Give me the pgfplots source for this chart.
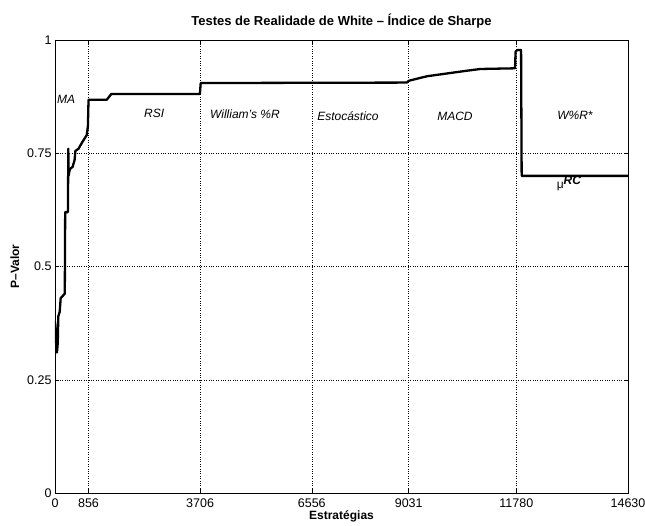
\documentclass[border=0pt]{standalone}
\usepackage{pgfplots}
\pgfplotsset{compat=1.18}
\usepackage{fontspec}
\setmainfont{Liberation Sans}
\begin{document}
\begin{tikzpicture}
\begin{axis}[
  name=main,
  scale only axis,
  width=573pt, height=453pt,
  xmin=0, xmax=14630, ymin=0, ymax=1,
  scaled x ticks=false, scaled y ticks=false,
  xtick={0,856,3706,6556,9031,11780,14630},
  xticklabels={0,856,3706,6556,9031,11780,14630},
  ytick={0,0.25,0.5,0.75,1},
  yticklabels={0,0.25,0.5,0.75,1},
  tick align=inside,
  major tick length=4pt,
  tick style={black, line width=0.5pt},
  grid=major,
  grid style={black, dotted, line width=0.5pt},
  axis line style={line width=0.8pt},
  ticklabel style={font=\fontsize{12.5}{14}\selectfont},
  xticklabel style={yshift=-2pt},
  /pgf/number format/assume math mode=true,
  title={\bfseries Testes de Realidade de White – Índice de Sharpe},
  title style={font=\fontsize{13}{15}\selectfont, yshift=2pt},
  xlabel={\bfseries Estratégias},
  ylabel={\bfseries P–Valor},
  label style={font=\fontsize{12}{14}\selectfont},
  xlabel style={yshift=4pt},
  ylabel style={yshift=1pt},
]
\addplot[black, line width=2.3pt, line join=round] coordinates {
  (0,0.38) (30,0.33) (50,0.31) (70,0.33) (85,0.39) (120,0.40) (145,0.43)
  (250,0.44) (260,0.62) (330,0.62) (340,0.76) (345,0.70) (380,0.715)
  (450,0.72) (500,0.735) (520,0.755) (600,0.76) (700,0.775) (810,0.79)
  (840,0.81) (856,0.868) (1320,0.868) (1440,0.881) (3700,0.881)
  (3720,0.905) (8980,0.906) (9031,0.910) (9500,0.920) (10000,0.926)
  (10500,0.932) (10860,0.936) (11745,0.9375) (11760,0.974) (11800,0.978)
  (11900,0.978) (11915,0.70) (14630,0.70)
};
\begin{scope}[every node/.style={font=\fontsize{12}{14}\selectfont\itshape}]
\node at (axis cs:281,0.87) {MA};
\node at (axis cs:2530,0.837) {RSI};
\node at (axis cs:4850,0.837) {William's \%R};
\node at (axis cs:7480,0.832) {Estocástico};
\node at (axis cs:10212,0.832) {MACD};
\node at (axis cs:13275,0.834) {W\%R*};
\end{scope}
\node[font=\fontsize{12}{14}\selectfont] at (axis cs:13122,0.683) {μ\raisebox{0.6ex}{\bfseries\itshape RC}};
\end{axis}
\pgfresetboundingbox
\path ([shift={(-55pt,-32pt)}]main.south west) rectangle ([shift={(17pt,40pt)}]main.north east);
\end{tikzpicture}
\end{document}
